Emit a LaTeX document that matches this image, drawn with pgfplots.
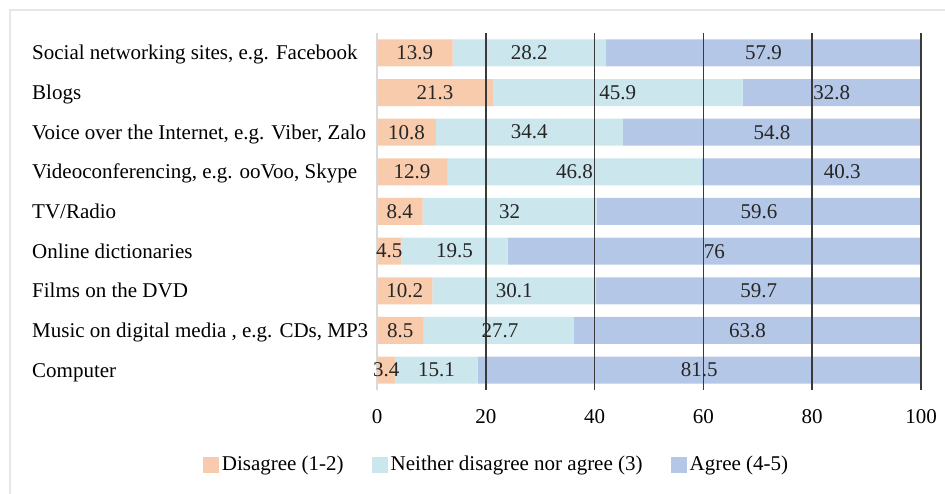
\documentclass[border=0pt]{standalone}
\usepackage{pgfplots}
\pgfplotsset{compat=1.18}
\usepackage{fontspec}
\setmainfont{Liberation Serif}
\definecolor{cDis}{HTML}{F8CBAD}
\definecolor{cNeu}{HTML}{CBE6EC}
\definecolor{cAgr}{HTML}{B4C7E7}
\definecolor{cGrid}{HTML}{3A3A3A}
\definecolor{cBorder}{HTML}{E6E6E6}
\pgfplotsset{sqleg/.style={legend image code/.code={\fill[##1] (0pt,-8pt) rectangle (16pt,8pt);}}}
\begin{document}
\fontsize{21}{25}\selectfont
\begin{tikzpicture}
\path[use as bounding box] (0,0) rectangle (945pt,494pt);
\draw[cBorder, line width=1.5pt] (10pt,0) -- (10pt,484pt) -- (945pt,484pt);
\begin{axis}[
  at={(377pt,104pt)}, anchor=south west,
  scale only axis, width=544pt, height=357pt,
  xmin=0, xmax=100, ymin=-0.5, ymax=8.5,
  xbar stacked, bar width=27pt,
  axis on top,
  axis lines*=left,
  x axis line style={draw=none},
  y axis line style={draw=gray!30, line width=1.5pt},
  major tick length=0pt,
  xtick={20,40,60,80,100},
  extra x ticks={0},
  extra x tick style={grid=none},
  xmajorgrids,
  major grid style={cGrid, line width=1.5pt},
  ytick={0,1,2,3,4,5,6,7,8},
  yticklabels={Computer, {Music on digital media , e.g. CDs, MP3}, Films on the DVD, Online dictionaries, TV/Radio, {Videoconferencing, e.g. ooVoo, Skype}, {Voice over the Internet, e.g. Viber, Zalo}, Blogs, {Social networking sites, e.g. Facebook}},
  yticklabel style={anchor=base west, inner sep=0pt, xshift=-345pt, yshift=-7pt, font=\fontsize{21}{25}\selectfont},
  xticklabel style={anchor=center, inner sep=0pt, yshift=-27pt, font=\fontsize{21}{25}\selectfont},
  /pgf/number format/assume math mode=true,
  legend style={at={(0.2206,-0.21)}, anchor=center, draw=none, fill=none,
    legend columns=3, font=\fontsize{21}{25}\selectfont,
    /tikz/every even column/.append style={column sep=26pt},
    nodes={inner sep=2.5pt}},
  legend cell align=left,
]
\addplot[fill=cDis, draw=none, sqleg] coordinates {(3.4,0) (8.5,1) (10.2,2) (4.5,3) (8.4,4) (12.9,5) (10.8,6) (21.3,7) (13.9,8)};
\addplot[fill=cNeu, draw=none, sqleg] coordinates {(15.1,0) (27.7,1) (30.1,2) (19.5,3) (32,4) (46.8,5) (34.4,6) (45.9,7) (28.2,8)};
\addplot[fill=cAgr, draw=none, sqleg] coordinates {(81.5,0) (63.8,1) (59.7,2) (76,3) (59.6,4) (40.3,5) (54.8,6) (32.8,7) (57.9,8)};
\legend{Disagree (1-2), Neither disagree nor agree (3), Agree (4-5)}
\end{axis}
\begin{axis}[
  at={(377pt,104pt)}, anchor=south west,
  scale only axis, width=544pt, height=357pt,
  xmin=0, xmax=100, ymin=-0.5, ymax=8.5,
  hide axis,
]
\addplot[draw=none, mark=none, nodes near coords, point meta=explicit symbolic,
  nodes near coords style={anchor=center, inner sep=0pt, font=\fontsize{21}{25}\selectfont, text=black!85}]
  table[x=x, y=y, meta=l] {
x y l
6.95 8 13.9
28.0 8 28.2
71.05 8 57.9
10.65 7 21.3
44.25 7 45.9
83.6 7 32.8
5.4 6 10.8
28.0 6 34.4
72.6 6 54.8
6.45 5 12.9
36.3 5 46.8
85.5 5 40.3
4.2 4 8.4
24.4 4 32
70.2 4 59.6
2.25 3 4.5
14.25 3 19.5
62.0 3 76
5.1 2 10.2
25.25 2 30.1
70.15 2 59.7
4.25 1 8.5
22.6 1 27.7
68.1 1 63.8
1.7 0 3.4
10.95 0 15.1
59.25 0 81.5
};
\end{axis}
\end{tikzpicture}
\end{document}
